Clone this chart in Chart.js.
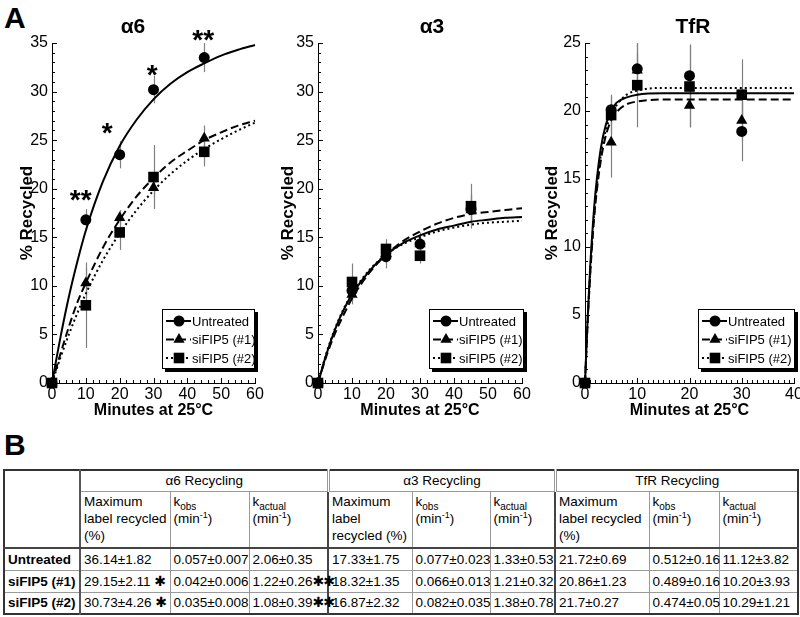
<!DOCTYPE html>
<html>
<head>
<meta charset="utf-8">
<script src="https://cdn.jsdelivr.net/npm/chart.js@4.4.1/dist/chart.umd.min.js"></script>
<style>
  html, body { margin: 0; padding: 0; background: #fff; }
  body { width: 800px; height: 617px; overflow: hidden; position: relative; font-family: "Liberation Sans", Arial, sans-serif; color: #000; }
  .panel { position: absolute; top: 0; }
  .letter { position: absolute; left: 4px; font: bold 30px "Liberation Sans", Arial, sans-serif; line-height: 30px; }
  #recyclingTable { position: absolute; left: 3px; top: 469px; width: 794px; border-collapse: collapse; table-layout: fixed; border: 2px solid #333; font-size: 13.5px; }
  #recyclingTable td { border: 1px solid #9a9a9a; padding: 0 2px 0 3px; vertical-align: top; line-height: 17px; white-space: nowrap; overflow: visible; box-sizing: border-box; }
  #recyclingTable tr.group td { height: 21px; text-align: center; vertical-align: middle; }
  #recyclingTable tr.sub td { height: 57px; white-space: normal; padding-top: 1px; }
  #recyclingTable tr.body td { height: 22px; vertical-align: middle; }
  #recyclingTable tr.sub td { border-bottom: 2px solid #444; }
  #recyclingTable td.lead { font-weight: bold; border-right: 2px solid #555; }
  #recyclingTable td.sep { border-left: 2px solid #444; }
  #recyclingTable tr.group td.sep { border-left: 3px double #999; }
  #recyclingTable sub, #recyclingTable sup { line-height: 0; }
  .star { font-family: "DejaVu Sans", sans-serif; font-size: 14px; font-weight: bold; line-height: 0; letter-spacing: -1px; }
</style>
</head>
<body>
<div class="letter" style="top:3px">A</div>
<canvas id="chartA6" class="panel" width="268" height="420" style="left:0px"></canvas>
<canvas id="chartA3" class="panel" width="267" height="420" style="left:268px"></canvas>
<canvas id="chartTfR" class="panel" width="270" height="420" style="left:535px"></canvas>
<div class="letter" style="top:430px">B</div>
<table id="recyclingTable"></table>

<script>
// ---- Data ----

const seriesNames = ['Untreated', 'siFIP5 (#1)', 'siFIP5 (#2)'];
const seriesMarkers = ['circle', 'triangle', 'rect'];
const seriesMarkerRadius = [5.5, 6.5, 7.5];
const seriesDash = [[], [8, 4], [2, 3]];

// alpha6 / alpha3 time points (min)
const minutesAlpha = [0, 10, 20, 30, 45];
// TfR time points (min)
const minutesTfR = [0, 5, 10, 20, 30];

// alpha6 measured points + error bars
const a6Untreated = [0, 16.8, 23.5, 30.2, 33.5];
const a6UntreatedErr = [0, 1.1, 1.4, 1.4, 1.5];
const a6Fip1 = [0, 10.3, 17.0, 20.1, 25.2];
const a6Fip1Err = [0, 1.5, 0.8, 1.0, 1.3];
const a6Fip2 = [0, 8.0, 15.5, 21.2, 23.8];
const a6Fip2Err = [0, 4.4, 1.8, 3.3, 1.5];

// alpha3 measured points + error bars
const a3Untreated = [0, 9.5, 13.0, 14.3, 17.9];
const a3UntreatedErr = [0, 1.0, 1.2, 1.2, 1.5];
const a3Fip1 = [0, 9.1, 13.3, 14.3, 17.8];
const a3Fip1Err = [0, 1.0, 1.0, 1.0, 1.5];
const a3Fip2 = [0, 10.4, 13.8, 13.1, 18.2];
const a3Fip2Err = [0, 1.9, 1.0, 0.8, 2.3];

// TfR measured points + error bars
const tfrUntreated = [0, 20.1, 23.1, 22.6, 18.5];
const tfrUntreatedErr = [0, 1.1, 1.9, 2.3, 2.2];
const tfrFip1 = [0, 17.7, 23.0, 20.4, 19.3];
const tfrFip1Err = [0, 2.6, 1.2, 1.6, 1.5];
const tfrFip2 = [0, 19.7, 21.9, 21.8, 21.2];
const tfrFip2Err = [0, 1.4, 3.1, 3.0, 2.6];

// fitted curves
const fitMinutesAlpha = [0, 2.5, 5, 7.5, 10, 15, 20, 25, 30, 35, 40, 45, 50, 55, 60];
const a6UntreatedFit = [0, 4.7, 8.9, 12.5, 15.7, 20.7, 24.4, 27.1, 29.2, 30.8, 32.0, 32.9, 33.7, 34.3, 34.8];
const a6Fip1Fit = [0, 3.0, 5.8, 8.3, 10.3, 13.9, 16.8, 19.2, 21.1, 22.7, 23.9, 25.0, 25.8, 26.5, 27.0];
const a6Fip2Fit = [0, 2.6, 5.0, 7.2, 9.2, 12.6, 15.4, 17.8, 19.8, 21.5, 22.9, 24.1, 25.1, 26.0, 26.8];
const a3UntreatedFit = [0, 3.0, 5.5, 7.5, 9.1, 11.5, 13.2, 14.4, 15.2, 15.8, 16.2, 16.6, 16.8, 17.0, 17.1];
const a3Fip1Fit = [0, 2.8, 5.1, 7.0, 8.7, 11.3, 13.2, 14.6, 15.6, 16.4, 17.0, 17.4, 17.6, 17.8, 18.0];
const a3Fip2Fit = [0, 3.1, 5.6, 7.6, 9.2, 11.6, 13.2, 14.3, 15.0, 15.6, 16.0, 16.3, 16.5, 16.6, 16.7];

const fitMinutesTfR = [0, 0.5, 1, 1.5, 2, 3, 4, 5, 6, 8, 10, 15, 20, 30, 40];
const tfrUntreatedFit = [0, 4.7, 8.6, 11.6, 14.0, 17.2, 19.0, 20.0, 20.6, 21.0, 21.2, 21.3, 21.3, 21.3, 21.3];
const tfrFip1Fit = [0, 4.4, 8.0, 10.9, 13.2, 16.3, 18.2, 19.3, 19.9, 20.5, 20.7, 20.85, 20.85, 20.85, 20.85];
const tfrFip2Fit = [0, 4.5, 8.2, 11.2, 13.5, 16.7, 18.6, 19.7, 20.4, 21.2, 21.5, 21.7, 21.7, 21.7, 21.7];

// significance marks on the alpha6 panel
const starMinutes = [8.5, 16.3, 29.6, 44.7];
const starLevels = [19.6, 26.5, 32.4, 36.0];
const starLabels = ['**', '*', '*', '**'];

// table (panel B)
const tableGroups = ['α6 Recycling', 'α3 Recycling', 'TfR Recycling'];
const tableRowNames = ['Untreated', 'siFIP5 (#1)', 'siFIP5 (#2)'];
const a6Max = ['36.14±1.82', '29.15±2.11', '30.73±4.26'];
const a6MaxStars = ['', '✱', '✱'];
const a6Kobs = ['0.057±0.007', '0.042±0.006', '0.035±0.008'];
const a6Kactual = ['2.06±0.35', '1.22±0.26', '1.08±0.39'];
const a6KactualStars = ['', '✱✱', '✱✱'];
const a3Max = ['17.33±1.75', '18.32±1.35', '16.87±2.32'];
const a3Kobs = ['0.077±0.023', '0.066±0.013', '0.082±0.035'];
const a3Kactual = ['1.33±0.53', '1.21±0.32', '1.38±0.78'];
const tfrMax = ['21.72±0.69', '20.86±1.23', '21.7±0.27'];
const tfrKobs = ['0.512±0.16', '0.489±0.16', '0.474±0.05'];
const tfrKactual = ['11.12±3.82', '10.20±3.93', '10.29±1.21'];

// ---- Helpers ----

const FONT = '"Liberation Sans", Arial, sans-serif';
const NARROW = '"Liberation Sans Narrow", "Arial Narrow", "Liberation Sans", Arial, sans-serif';

function drawMarker(ctx, style, r, x, y) {
  ctx.beginPath();
  if (style === 'circle') {
    ctx.arc(x, y, r, 0, Math.PI * 2);
  } else if (style === 'triangle') {
    ctx.moveTo(x, y - r);
    ctx.lineTo(x + r * 0.866, y + r * 0.5);
    ctx.lineTo(x - r * 0.866, y + r * 0.5);
    ctx.closePath();
  } else {
    const s = r * Math.SQRT1_2;
    ctx.rect(x - s, y - s, 2 * s, 2 * s);
  }
  ctx.fill();
}

// error bars, inward ticks, titles, stars and the boxed legend
const figurePlugin = {
  id: 'figure',
  beforeDatasetsDraw(chart) {
    const ctx = chart.ctx;
    const yScale = chart.scales.y;
    ctx.save();
    ctx.strokeStyle = '#808080';
    ctx.lineWidth = 1.2;
    chart.data.datasets.forEach((ds, i) => {
      if (!ds.errors) return;
      const meta = chart.getDatasetMeta(i);
      meta.data.forEach((pt, j) => {
        const e = ds.errors[j];
        if (!e) return;
        const v = ds.data[j].y;
        const x = Math.round(pt.x) + 0.5;
        ctx.beginPath();
        ctx.moveTo(x, yScale.getPixelForValue(v + e));
        ctx.lineTo(x, yScale.getPixelForValue(v - e));
        ctx.stroke();
      });
    });
    ctx.restore();
  },
  afterDraw(chart, args, o) {
    const { ctx, chartArea: a, scales: { x, y } } = chart;
    ctx.save();

    // inward ticks
    ctx.strokeStyle = '#000';
    ctx.lineWidth = 1;
    const xs = x.options.ticks.stepSize, ys = y.options.ticks.stepSize;
    for (let v = x.min; v <= x.max + 1e-6; v += o.minorX) {
      const px = Math.round(x.getPixelForValue(v)) + 0.5;
      const len = Math.abs(v / xs - Math.round(v / xs)) < 1e-6 ? 5 : 3;
      ctx.beginPath(); ctx.moveTo(px, a.bottom); ctx.lineTo(px, a.bottom - len); ctx.stroke();
    }
    for (let v = y.min; v <= y.max + 1e-6; v += o.minorY) {
      const py = Math.round(y.getPixelForValue(v)) + 0.5;
      const len = Math.abs(v / ys - Math.round(v / ys)) < 1e-6 ? 5 : 3;
      ctx.beginPath(); ctx.moveTo(a.left, py); ctx.lineTo(a.left + len, py); ctx.stroke();
    }

    // panel title
    ctx.fillStyle = '#000';
    ctx.font = 'bold 21px ' + NARROW;
    ctx.textAlign = 'center';
    ctx.textBaseline = 'middle';
    ctx.fillText(o.title, o.titleX, 27);

    // significance stars
    if (o.stars) {
      ctx.font = 'bold 28px ' + FONT;
      ctx.textBaseline = 'alphabetic';
      o.stars.forEach(s => {
        ctx.fillText(s.text, x.getPixelForValue(s.x), y.getPixelForValue(s.y) + 0.57 * 28);
      });
    }

    // legend box with drop shadow
    const w = o.legendWidth, h = 60;
    const left = Math.round(a.right - w + o.legendShift), top = Math.round(a.bottom - 14 - h);
    ctx.fillStyle = '#000';
    ctx.fillRect(left + 3, top + 3, w, h);
    ctx.fillStyle = '#fff';
    ctx.fillRect(left, top, w, h);
    ctx.strokeStyle = '#000';
    ctx.lineWidth = 1;
    ctx.strokeRect(left + 0.5, top + 0.5, w - 1, h - 1);
    ctx.font = '13px ' + FONT;
    ctx.textAlign = 'left';
    ctx.textBaseline = 'middle';
    seriesNames.forEach((name, i) => {
      const cy = top + 12 + i * 18.5;
      ctx.strokeStyle = '#000';
      ctx.lineWidth = 2;
      ctx.setLineDash(seriesDash[i]);
      ctx.beginPath(); ctx.moveTo(left + 4, cy); ctx.lineTo(left + 29, cy); ctx.stroke();
      ctx.setLineDash([]);
      ctx.fillStyle = '#000';
      drawMarker(ctx, seriesMarkers[i], seriesMarkerRadius[i], left + 17, cy);
      ctx.fillText(name, left + 30, cy + 1);
    });
    ctx.restore();
  }
};

function buildDatasets(times, values, errors, fitTimes, fits) {
  const points = values.map((vals, i) => ({
    type: 'scatter',
    label: seriesNames[i],
    data: times.map((t, j) => ({ x: t, y: vals[j] })),
    errors: errors[i],
    pointStyle: seriesMarkers[i],
    pointRadius: seriesMarkerRadius[i],
    backgroundColor: '#000',
    borderColor: '#000',
    borderWidth: 0,
    showLine: false,
    clip: false
  }));
  const lines = fits.map((vals, i) => ({
    type: 'scatter',
    label: seriesNames[i] + ' fit',
    data: fitTimes.map((t, j) => ({ x: t, y: vals[j] })),
    showLine: true,
    borderColor: '#000',
    borderWidth: 2,
    borderDash: seriesDash[i],
    pointRadius: 0,
    cubicInterpolationMode: 'monotone',
    fill: false,
    clip: false
  }));
  return points.concat(lines);
}

function makeChart(id, cfg) {
  return new Chart(document.getElementById(id), {
    type: 'scatter',
    data: { datasets: cfg.datasets },
    plugins: [figurePlugin],
    options: {
      responsive: false,
      animation: false,
      events: [],
      layout: { padding: { left: cfg.padLeft, right: cfg.padRight, top: 43, bottom: 0 } },
      plugins: {
        legend: { display: false },
        tooltip: { enabled: false },
        figure: cfg.figure
      },
      scales: {
        x: {
          type: 'linear',
          min: 0,
          max: cfg.xMax,
          ticks: { stepSize: 10, color: '#000', font: { family: FONT, size: 16 }, padding: 2, maxRotation: 0, autoSkip: false },
          grid: { display: false, drawTicks: false },
          border: { display: true, color: '#000', width: 1 },
          title: { display: true, text: 'Minutes at 25°C', color: '#000', font: { family: FONT, size: 16, weight: 'bold' }, padding: { top: 0, bottom: 0 } },
          afterFit(s) { s.height = 37; }
        },
        y: {
          type: 'linear',
          min: 0,
          max: cfg.yMax,
          ticks: { stepSize: 5, color: '#000', font: { family: FONT, size: 16 }, padding: 4, autoSkip: false },
          grid: { display: false, drawTicks: false },
          border: { display: true, color: '#000', width: 1 },
          title: { display: true, text: '% Recycled', color: '#000', font: { family: FONT, size: 17, weight: 'bold' }, padding: { top: 0, bottom: 0 } },
          afterFit(s) { s.width = cfg.yWidth; }
        }
      }
    }
  });
}

makeChart('chartA6', {
  datasets: buildDatasets(minutesAlpha,
    [a6Untreated, a6Fip1, a6Fip2], [a6UntreatedErr, a6Fip1Err, a6Fip2Err],
    fitMinutesAlpha, [a6UntreatedFit, a6Fip1Fit, a6Fip2Fit]),
  padLeft: 17, padRight: 13, yWidth: 35, xMax: 60, yMax: 35,
  figure: {
    title: 'α6', titleX: 133, minorX: 2, minorY: 1, legendWidth: 93, legendShift: 0,
    stars: starMinutes.map((m, i) => ({ x: m, y: starLevels[i], text: starLabels[i] }))
  }
});

makeChart('chartA3', {
  datasets: buildDatasets(minutesAlpha,
    [a3Untreated, a3Fip1, a3Fip2], [a3UntreatedErr, a3Fip1Err, a3Fip2Err],
    fitMinutesAlpha, [a3UntreatedFit, a3Fip1Fit, a3Fip2Fit]),
  padLeft: 10, padRight: 13, yWidth: 40, xMax: 60, yMax: 35,
  figure: { title: 'α3', titleX: 164, minorX: 2, minorY: 1, legendWidth: 95, legendShift: 2 }
});

makeChart('chartTfR', {
  datasets: buildDatasets(minutesTfR,
    [tfrUntreated, tfrFip1, tfrFip2], [tfrUntreatedErr, tfrFip1Err, tfrFip2Err],
    fitMinutesTfR, [tfrUntreatedFit, tfrFip1Fit, tfrFip2Fit]),
  padLeft: 7, padRight: 11, yWidth: 43, xMax: 40, yMax: 25,
  figure: { title: 'TfR', titleX: 158, minorX: 1, minorY: 1, legendWidth: 97, legendShift: 1 }
});

// ---- Table (panel B) ----
const colWidths = [76, 90, 79, 79, 84, 78, 65, 94, 70, 79];
const kObs = 'k<sub style="font-size:10px">obs</sub><br>(min<sup style="font-size:9px">-1</sup>)';
const kAct = 'k<sub style="font-size:10px">actual</sub><br>(min<sup style="font-size:9px">-1</sup>)';

let html = '<colgroup>' + colWidths.map(w => `<col style="width:${w}px">`).join('') + '</colgroup>';
html += '<tr class="group"><td class="lead" rowspan="2" style="border-bottom:2px solid #444"></td>' +
  tableGroups.map((g, i) => `<td colspan="3" class="${i ? 'sep' : ''}">${g}</td>`).join('') + '</tr>';
html += '<tr class="sub">' +
  '<td>Maximum label recycled (%)</td><td>' + kObs + '</td><td>' + kAct + '</td>' +
  '<td class="sep">Maximum label recycled (%)</td><td>' + kObs + '</td><td>' + kAct + '</td>' +
  '<td class="sep">Maximum label recycled (%)</td><td>' + kObs + '</td><td>' + kAct + '</td></tr>';
tableRowNames.forEach((name, i) => {
  html += `<tr class="body"><td class="lead">${name}</td>` +
    `<td>${a6Max[i]} <span class="star">${a6MaxStars[i]}</span></td>` +
    `<td>${a6Kobs[i]}</td>` +
    `<td>${a6Kactual[i]}<span class="star">${a6KactualStars[i]}</span></td>` +
    `<td class="sep">${a3Max[i]}</td><td>${a3Kobs[i]}</td><td>${a3Kactual[i]}</td>` +
    `<td class="sep">${tfrMax[i]}</td><td>${tfrKobs[i]}</td><td>${tfrKactual[i]}</td></tr>`;
});
document.getElementById('recyclingTable').innerHTML = html;
</script>
</body>
</html>
